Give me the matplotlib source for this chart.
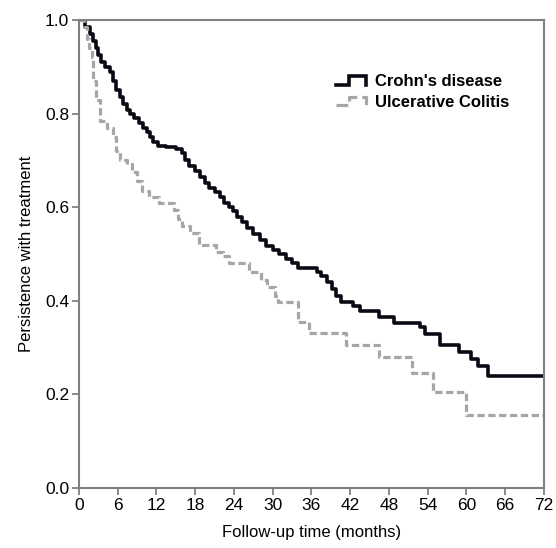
import matplotlib
matplotlib.use("Agg")
import matplotlib.pyplot as plt
from matplotlib.legend_handler import HandlerBase
from matplotlib.lines import Line2D

plt.rcParams['font.family'] = ['Liberation Sans', 'DejaVu Sans']

# Kaplan-Meier step points (months, persistence)
cd_t = [0, 1.0, 1.7, 2.2, 2.6, 3.0, 3.4, 4.0, 4.8, 5.3, 5.8, 6.3, 6.9, 7.5, 7.9,
        8.6, 9.3, 9.9, 10.5, 11.0, 11.5, 12.2, 13.5, 15.0, 16.0, 16.4, 17.0,
        18.0, 18.8, 19.5, 20.2, 21.0, 21.8, 22.5, 23.2, 23.9, 24.5, 25.2, 26.0,
        27.0, 28.0, 29.0, 30.0, 31.0, 32.0, 33.0, 34.0, 36.8, 37.5, 38.5, 39.2,
        39.8, 40.6, 42.5, 43.5, 46.5, 48.8, 52.8, 53.6, 56.0, 58.8, 60.8, 61.8,
        63.3, 72]
cd_s = [1.0, 0.985, 0.97, 0.955, 0.94, 0.925, 0.91, 0.90, 0.888, 0.87, 0.85,
        0.835, 0.82, 0.808, 0.80, 0.79, 0.78, 0.77, 0.76, 0.75, 0.74, 0.73,
        0.728, 0.725, 0.715, 0.70, 0.688, 0.678, 0.665, 0.652, 0.642, 0.632,
        0.622, 0.61, 0.60, 0.592, 0.58, 0.568, 0.556, 0.542, 0.53, 0.518,
        0.508, 0.50, 0.49, 0.48, 0.47, 0.462, 0.452, 0.44, 0.425, 0.41, 0.398,
        0.388, 0.378, 0.366, 0.352, 0.345, 0.33, 0.305, 0.29, 0.275, 0.26,
        0.24, 0.24]

uc_t = [0, 0.8, 1.2, 1.6, 2.0, 2.2, 2.7, 3.2, 4.4, 5.2, 5.8, 6.3, 7.4, 8.2,
        9.0, 9.7, 10.8, 12.4, 14.8, 15.3, 16.0, 17.2, 18.6, 21.2, 22.3, 23.3,
        26.3, 28.2, 29.2, 30.4, 30.8, 34.0, 35.6, 41.4, 46.5, 51.6, 54.8, 59.9,
        72]
uc_s = [1.0, 0.985, 0.96, 0.94, 0.92, 0.87, 0.83, 0.785, 0.77, 0.75, 0.72,
        0.70, 0.692, 0.675, 0.655, 0.635, 0.622, 0.61, 0.595, 0.575, 0.56,
        0.545, 0.52, 0.505, 0.495, 0.48, 0.462, 0.444, 0.43, 0.41, 0.397,
        0.355, 0.331, 0.305, 0.28, 0.246, 0.205, 0.155, 0.155]

labels = ["Crohn's disease", "Ulcerative Colitis"]
xticks = list(range(0, 73, 6))
yticks = [0.0, 0.2, 0.4, 0.6, 0.8, 1.0]

cd_color = '#0a0a14'
uc_color = '#a6a6a6'
axis_gray = '#808080'


class StepHandler(HandlerBase):
    # draws the little step icon used in the legend
    def create_artists(self, legend, orig_handle, xdescent, ydescent,
                       width, height, fontsize, trans):
        lo = -ydescent + 0.1 * height
        hi = -ydescent + 0.8 * height
        x0 = -xdescent
        xs = [x0, x0 + 0.45 * width, x0 + 0.45 * width, x0 + width, x0 + width]
        ys = [lo, lo, hi, hi, lo]
        ln = Line2D(xs, ys, color=orig_handle.get_color(),
                    linewidth=orig_handle.get_linewidth(),
                    linestyle=orig_handle.get_linestyle(),
                    solid_joinstyle='miter')
        ln.set_transform(trans)
        return [ln]


fig = plt.figure(figsize=(5.56, 5.48), dpi=100)
ax = fig.add_axes([0.142, 0.1095, 0.836, 0.854])

l1, = ax.step(cd_t, cd_s, where='post', color=cd_color, linewidth=2.6,
              label=labels[0])
l2, = ax.step(uc_t, uc_s, where='post', color=uc_color, linewidth=2.3,
              linestyle=(0, (2.3, 1.1)), label=labels[1])

ax.set_xlim(0, 72)
ax.set_ylim(0, 1.0)
ax.set_xticks(xticks)
ax.set_yticks(yticks)
ax.set_yticklabels(["%.1f" % v for v in yticks])

for sp in ax.spines.values():
    sp.set_color(axis_gray)
    sp.set_linewidth(1.5)
ax.tick_params(colors=axis_gray, labelcolor='black', labelsize=12.5,
               length=5, width=1.3, pad=2)

ax.set_xlabel("Follow-up time (months)", fontsize=12, labelpad=9)
ax.set_ylabel("Persistence with treatment", fontsize=12, labelpad=8)

leg = ax.legend(handles=[l1, l2], handler_map={Line2D: StepHandler()},
                loc='upper left', bbox_to_anchor=(0.552, 0.885), frameon=False,
                borderaxespad=0, borderpad=0, handlelength=1.8,
                handletextpad=0.55, labelspacing=0.35,
                prop={'size': 12, 'weight': 'bold'})

fig.savefig("out.png", dpi=100)
